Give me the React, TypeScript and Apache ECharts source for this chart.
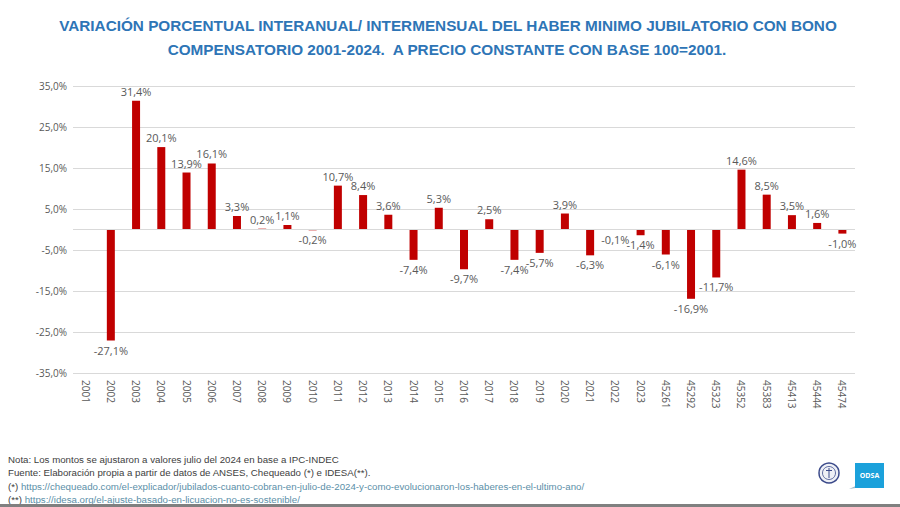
import React, { useEffect, useRef } from "react";
import * as echarts from "echarts";

const categories = [
  "2001", "2002", "2003", "2004", "2005", "2006", "2007", "2008", "2009", "2010",
  "2011", "2012", "2013", "2014", "2015", "2016", "2017", "2018", "2019", "2020",
  "2021", "2022", "2023", "45261", "45292", "45323", "45352", "45383", "45413", "45444", "45474",
];

const variation: (number | null)[] = [
  null, -27.1, 31.4, 20.1, 13.9, 16.1, 3.3, 0.2, 1.1, -0.2,
  10.7, 8.4, 3.6, -7.4, 5.3, -9.7, 2.5, -7.4, -5.7, 3.9,
  -6.3, -0.1, -1.4, -6.1, -16.9, -11.7, 14.6, 8.5, 3.5, 1.6, -1.0,
];

const yMin = -35;
const yMax = 35;
const yInterval = 10;

const titleLines = [
  "VARIACIÓN PORCENTUAL INTERANUAL/ INTERMENSUAL DEL HABER MINIMO JUBILATORIO CON BONO",
  "COMPENSATORIO 2001-2024.  A PRECIO CONSTANTE CON BASE 100=2001.",
];

const noteLines = [
  "Nota: Los montos se ajustaron a valores julio del 2024 en base a IPC-INDEC",
  "Fuente: Elaboración propia a partir de datos de ANSES, Chequeado (*) e IDESA(**).",
];
const linkPrefixes = ["(*) ", "(**) "];
const links = [
  "https://chequeado.com/el-explicador/jubilados-cuanto-cobran-en-julio-de-2024-y-como-evolucionaron-los-haberes-en-el-ultimo-ano/",
  "https://idesa.org/el-ajuste-basado-en-licuacion-no-es-sostenible/",
];

const fmt = (v: number) => v.toFixed(1).replace(".", ",") + "%";

export default function App() {
  const ref = useRef<HTMLDivElement>(null);

  useEffect(() => {
    if (!ref.current) return;
    const chart = echarts.init(ref.current, null, { renderer: "svg" });
    const titleFont = "'Liberation Sans', 'Open Sans', sans-serif";
    const noteFont = "'Liberation Sans', 'Open Sans', sans-serif";
    const noteSize = 9.7;

    const data = variation.map((v) =>
      v === null
        ? "-"
        : {
            value: v,
            label: { position: v >= 0 ? "top" : "bottom" },
          }
    );

    chart.setOption({
      animation: false,
      backgroundColor: "#ffffff",
      grid: { left: 73, right: 45, top: 86, bottom: 134, containLabel: false },
      xAxis: {
        type: "category",
        data: categories,
        axisLine: { show: false },
        axisTick: { show: false },
        axisLabel: {
          rotate: -90,
          interval: 0,
          color: "#595959",
          fontSize: 10,
          margin: 7,
          fontFamily: "'Open Sans', sans-serif",
        },
      },
      yAxis: {
        type: "value",
        min: yMin,
        max: yMax,
        interval: yInterval,
        axisLine: { show: false },
        axisTick: { show: false },
        splitLine: { lineStyle: { color: "#d9d9d9", width: 1 } },
        axisLabel: {
          formatter: (v: number) => fmt(v),
          color: "#595959",
          fontSize: 10,
          margin: 6,
          fontFamily: "'Open Sans', sans-serif",
        },
      },
      series: [
        {
          type: "bar",
          data,
          barWidth: 8,
          itemStyle: { color: "#c00000" },
          label: {
            show: true,
            formatter: (p: any) => fmt(p.value),
            color: "#595959",
            fontSize: 11,
            distance: 4,
            fontFamily: "'Open Sans', sans-serif",
          },
          markLine: {
            silent: true,
            symbol: "none",
            label: { show: false },
            lineStyle: { color: "#d9d9d9", type: "solid", width: 1 },
            data: [{ yAxis: 0 }],
          },
        },
      ],
      graphic: [
        {
          type: "text",
          x: 448,
          y: 25,
          style: {
            text: titleLines[0],
            fill: "#2e75b6",
            font: `bold 15.3px ${titleFont}`,
            align: "center",
            verticalAlign: "middle",
          },
        },
        {
          type: "text",
          x: 447,
          y: 49,
          style: {
            text: titleLines[1],
            fill: "#2e75b6",
            font: `bold 15.3px ${titleFont}`,
            align: "center",
            verticalAlign: "middle",
          },
        },
        ...noteLines.map((t, i) => ({
          type: "text",
          x: 8,
          y: 459 + i * 13.5,
          style: { text: t, fill: "#404040", font: `${noteSize}px ${noteFont}`, verticalAlign: "middle" },
        })),
        ...links.map((t, i) => ({
          type: "text",
          x: 8,
          y: 486 + i * 13,
          style: {
            rich: {
              p: { fill: "#404040", font: `${noteSize}px ${noteFont}` },
              l: { fill: "#5b8fa8", font: `${noteSize}px ${noteFont}`, textDecoration: "underline" },
            },
            text: `{p|${linkPrefixes[i]}}{l|${t}}`,
            verticalAlign: "middle",
          },
        })),
        {
          type: "rect",
          shape: { x: 0, y: 504, width: 900, height: 3 },
          style: { fill: "#808080" },
        },
        {
          type: "circle",
          shape: { cx: 829, cy: 473, r: 10 },
          style: { fill: "#eef0f6", stroke: "#3b4a8a", lineWidth: 1.5 },
        },
        {
          type: "circle",
          shape: { cx: 829, cy: 473, r: 6.5 },
          style: { fill: "none", stroke: "#3b4a8a", lineWidth: 0.8 },
        },
        {
          type: "line",
          shape: { x1: 829, y1: 468, x2: 829, y2: 478 },
          style: { stroke: "#3b4a8a", lineWidth: 1 },
        },
        {
          type: "line",
          shape: { x1: 826, y1: 470.5, x2: 832, y2: 470.5 },
          style: { stroke: "#3b4a8a", lineWidth: 1 },
        },
        {
          type: "polygon",
          shape: { points: [[858, 485], [849, 489], [862, 487]] },
          style: { fill: "#9fb9c9" },
        },
        {
          type: "rect",
          shape: { x: 855, y: 463, width: 29, height: 25 },
          style: { fill: "#1ba1db" },
        },
        {
          type: "text",
          x: 869.5,
          y: 475.5,
          style: {
            text: "ODSA",
            fill: "#ffffff",
            font: "bold 7px 'Open Sans', sans-serif",
            align: "center",
            verticalAlign: "middle",
          },
        },
      ],
    });
    return () => chart.dispose();
  }, []);

  return <div ref={ref} style={{ width: 900, height: 507, position: "absolute", left: 0, top: 0 }} />;
}
